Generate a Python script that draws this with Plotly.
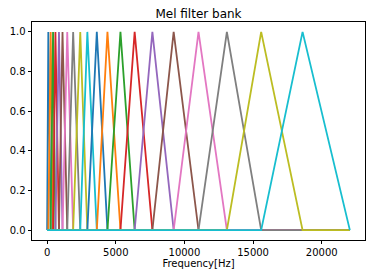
import plotly.graph_objects as go

# Filter edge / centre frequencies (Hz): 20 triangular filters
mel_points_hz = [0, 86, 258, 431, 603, 861, 1120, 1464, 1895, 2412, 2929,
                 3618, 4393, 5340, 6374, 7666, 9216, 11025, 13092, 15590,
                 18605, 22050]
freq_min = 0
freq_max = 22050
x_ticks = [0, 5000, 10000, 15000, 20000]
y_ticks = [0.0, 0.2, 0.4, 0.6, 0.8, 1.0]
colors = ["#1f77b4", "#ff7f0e", "#2ca02c", "#d62728", "#9467bd",
          "#8c564b", "#e377c2", "#7f7f7f", "#bcbd22", "#17becf"]

fig = go.Figure()
n_filters = len(mel_points_hz) - 2
for m in range(1, n_filters + 1):
    lo, c, hi = mel_points_hz[m - 1], mel_points_hz[m], mel_points_hz[m + 1]
    fig.add_trace(go.Scatter(
        x=[freq_min, lo, c, hi, freq_max],
        y=[0, 0, 1, 0, 0],
        mode="lines",
        line=dict(color=colors[(m - 1) % len(colors)], width=1.8),
        showlegend=False,
        hoverinfo="skip",
    ))

span = freq_max - freq_min
axis_common = dict(
    showline=True, linecolor="black", linewidth=0.8, mirror=True,
    ticks="outside", ticklen=3.5, tickwidth=0.8, tickcolor="black",
    showgrid=False, zeroline=False,
    tickfont=dict(family="DejaVu Sans", size=10, color="black"),
)
fig.update_layout(
    width=375, height=278,
    margin=dict(l=30, r=9.5, t=22, b=38),
    paper_bgcolor="white", plot_bgcolor="white",
    font=dict(family="DejaVu Sans", size=10, color="black"),
    title=dict(text="Mel filter bank", x=0.5, xref="paper", xanchor="center",
               y=1, yref="paper", yanchor="bottom", pad=dict(b=4),
               font=dict(family="DejaVu Sans", size=12, color="black")),
    xaxis=dict(range=[freq_min - 0.05 * span, freq_max + 0.05 * span],
               tickvals=x_ticks, tickformat="d",
               title=dict(text="Frequency[Hz]", standoff=2,
                          font=dict(family="DejaVu Sans", size=10, color="black")),
               **axis_common),
    yaxis=dict(range=[-0.05, 1.05], tickvals=y_ticks, tickformat=".1f",
               **axis_common),
)

fig.write_html("out.html")
